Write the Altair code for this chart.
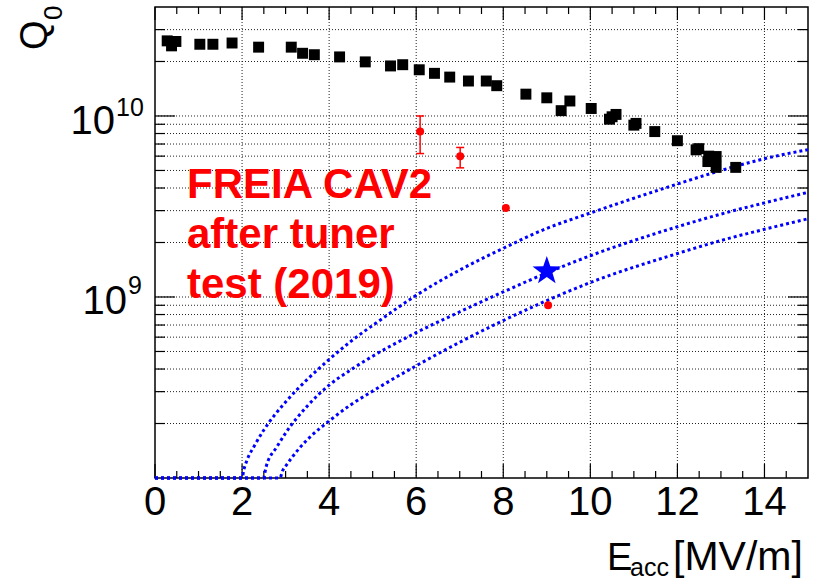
import altair as alt
import pandas as pd

# ---------------- data ----------------
black_E = [0.28, 0.38, 0.48, 1.03, 1.33, 1.77, 2.38, 3.13, 3.39, 3.66, 4.24, 4.83,
           5.41, 5.69, 6.07, 6.42, 6.77, 7.20, 7.61, 7.85, 8.52, 9.00, 9.33, 9.53,
           10.02, 10.44, 10.50, 10.59, 11.00, 11.05, 11.48, 12.00, 12.43, 12.49,
           12.70, 12.72, 12.89, 12.89, 13.34]
black_Q = [2.60e10, 2.44e10, 2.58e10, 2.49e10, 2.49e10, 2.53e10, 2.40e10, 2.40e10,
           2.22e10, 2.18e10, 2.12e10, 1.99e10, 1.89e10, 1.92e10, 1.80e10, 1.72e10,
           1.64e10, 1.56e10, 1.56e10, 1.47e10, 1.32e10, 1.26e10, 1.07e10, 1.21e10,
           1.10e10, 9.6e9, 9.9e9, 1.02e10, 8.9e9, 9.1e9, 8.2e9, 7.3e9, 6.5e9, 6.6e9,
           5.6e9, 6.0e9, 5.97e9, 5.2e9, 5.2e9]

red_E = [6.09, 7.01, 8.06, 9.03]
red_Q = [8.2e9, 6.0e9, 3.1e9, 9.0e8]
err_E = [6.09, 7.01]
err_lo = [6.2e9, 5.17e9]
err_hi = [1.0e10, 6.7e9]

star_E = [9.0]
star_Q = [1.39e9]

curveA_E = [0, 2.0, 2.04, 2.1, 2.3, 2.5, 3.0, 3.5, 4.0, 4.5, 5.17, 6.0, 7.0, 8.0,
            9.0, 10.0, 12.0, 13.0, 14.0, 15.0]
curveA_Q = [1e8, 1e8, 1.109e8, 1.230e8, 1.531e8, 1.841e8, 2.630e8, 3.508e8, 4.519e8,
            5.689e8, 7.447e8, 1.021e9, 1.409e9, 1.858e9, 2.393e9, 2.911e9, 4.207e9,
            5.000e9, 5.808e9, 6.516e9]
curveB_E = [0, 2.49, 2.55, 2.8, 3.0, 3.5, 4.0, 4.5, 5.0, 6.0, 7.0, 8.0, 9.0, 10.0,
            12.0, 13.0, 14.0, 15.0]
curveB_Q = [1e8, 1e8, 1.148e8, 1.486e8, 1.770e8, 2.500e8, 3.258e8, 3.963e8, 4.710e8,
            6.353e8, 8.279e8, 1.067e9, 1.358e9, 1.690e9, 2.443e9, 2.871e9, 3.311e9,
            3.784e9]
curveC_E = [0, 2.87, 2.93, 3.0, 3.3, 3.6, 4.0, 4.5, 5.0, 6.0, 7.0, 8.0, 9.0, 10.0,
            12.0, 13.0, 14.0, 15.0]
curveC_Q = [1e8, 1e8, 1.096e8, 1.161e8, 1.445e8, 1.718e8, 2.065e8, 2.541e8, 3.020e8,
            4.169e8, 5.623e8, 7.413e8, 9.550e8, 1.202e9, 1.738e9, 2.051e9, 2.366e9,
            2.704e9]

x_major = [0, 2, 4, 6, 8, 10, 12, 14]
x_minor = [0.5, 1, 1.5, 2.5, 3, 3.5, 4.5, 5, 5.5, 6.5, 7, 7.5, 8.5, 9, 9.5,
           10.5, 11, 11.5, 12.5, 13, 13.5, 14.5]
y_major = [1e9, 1e10]
y_minor = [2e8, 3e8, 4e8, 5e8, 6e8, 7e8, 8e8, 9e8,
           2e9, 3e9, 4e9, 5e9, 6e9, 7e9, 8e9, 9e9, 2e10, 3e10]
y_label_vals = [1e10, 1e9]
y_label_exps = ["10", "9"]
note_lines = ["FREIA CAV2", "after tuner", "test (2019)"]

# ---------------- chart ----------------
W, H = 653, 471
FONT = "Liberation Sans"
xs = alt.Scale(domain=[0, 15], nice=False, zero=False)
ys = alt.Scale(type="log", domain=[1e8, 4e10], nice=False)
one = pd.DataFrame({"d": [0]})
NOX = dict(scale=xs, axis=None)
NOY = dict(scale=ys, axis=None)

layers = []

# vertical grid
layers.append(alt.Chart(pd.DataFrame({"E": x_major[1:]})).mark_rule(
    color="#222", strokeWidth=1, strokeDash=[1, 2]
).encode(x=alt.X("E:Q", **NOX), y=alt.value(0), y2=alt.value(H)))

# horizontal grid
layers.append(alt.Chart(pd.DataFrame({"Q": y_major + y_minor})).mark_rule(
    color="#222", strokeWidth=1, strokeDash=[1, 2]
).encode(y=alt.Y("Q:Q", **NOY), x=alt.value(0), x2=alt.value(W)))


def xticks(vals, y0, y1):
    return alt.Chart(pd.DataFrame({"E": vals})).mark_rule(color="black", strokeWidth=1.2).encode(
        x=alt.X("E:Q", **NOX), y=alt.value(y0), y2=alt.value(y1))


def yticks(vals, x0, x1):
    return alt.Chart(pd.DataFrame({"Q": vals})).mark_rule(color="black", strokeWidth=1.2).encode(
        y=alt.Y("Q:Q", **NOY), x=alt.value(x0), x2=alt.value(x1))


layers += [
    xticks(x_major, H, H - 14), xticks(x_minor, H, H - 7),
    xticks(x_major, 0, 13), xticks(x_minor, 0, 7),
    yticks(y_major, 0, 20), yticks(y_minor, 0, 10),
    yticks(y_major, W, W - 20), yticks(y_minor, W, W - 10),
]

# x tick labels
layers.append(alt.Chart(pd.DataFrame({"E": x_major, "lab": [str(v) for v in x_major]})).mark_text(
    font=FONT, fontSize=40, color="black", align="center", baseline="alphabetic"
).encode(x=alt.X("E:Q", **NOX), y=alt.value(H + 37), text="lab:N"))

# blue dotted curves
curves = pd.concat([
    pd.DataFrame({"E": curveA_E, "Q": curveA_Q, "c": "A"}),
    pd.DataFrame({"E": curveB_E, "Q": curveB_Q, "c": "B"}),
    pd.DataFrame({"E": curveC_E, "Q": curveC_Q, "c": "C"}),
])
layers.append(alt.Chart(curves).mark_line(
    color="#0000ff", strokeWidth=3, strokeDash=[3, 3], interpolate="monotone"
).encode(x=alt.X("E:Q", **NOX), y=alt.Y("Q:Q", **NOY), detail="c:N", order="E:Q"))

# black squares
layers.append(alt.Chart(pd.DataFrame({"E": black_E, "Q": black_Q})).mark_square(
    size=120, color="black", opacity=1
).encode(x=alt.X("E:Q", **NOX), y=alt.Y("Q:Q", **NOY)))

# red error bars and points
err = pd.DataFrame({"E": err_E, "lo": err_lo, "hi": err_hi})
layers.append(alt.Chart(err).mark_rule(color="red", strokeWidth=1.5).encode(
    x=alt.X("E:Q", **NOX), y=alt.Y("lo:Q", **NOY), y2="hi:Q"))
for col in ["lo", "hi"]:
    layers.append(alt.Chart(err).mark_tick(
        color="red", orient="horizontal", size=8, thickness=1.5, opacity=1
    ).encode(x=alt.X("E:Q", **NOX), y=alt.Y(f"{col}:Q", **NOY)))
layers.append(alt.Chart(pd.DataFrame({"E": red_E, "Q": red_Q})).mark_circle(
    size=64, color="red", opacity=1
).encode(x=alt.X("E:Q", **NOX), y=alt.Y("Q:Q", **NOY)))

# blue star
STAR = ("M0,-1 L0.235,-0.324 L0.951,-0.309 L0.380,0.124 L0.588,0.809 L0,0.4 "
        "L-0.588,0.809 L-0.380,0.124 L-0.951,-0.309 L-0.235,-0.324 Z")
layers.append(alt.Chart(pd.DataFrame({"E": star_E, "Q": star_Q})).mark_point(
    shape=STAR, size=900, filled=True, color="#0000ff", opacity=1
).encode(x=alt.X("E:Q", **NOX), y=alt.Y("Q:Q", **NOY)))

# red annotation
layers.append(alt.Chart(one).mark_text(
    text=note_lines, font=FONT, fontSize=42, fontWeight="bold", color="red",
    align="left", baseline="alphabetic", lineHeight=50
).encode(x=alt.value(32), y=alt.value(191)))

# y-axis labels 10^10 and 10^9
base_x = [-40, -28]
base_dy = [18, 17]
sup_dy = [0, -3]
for v, e, bx, bdy, sdy in zip(y_label_vals, y_label_exps, base_x, base_dy, sup_dy):
    d = pd.DataFrame({"Q": [v]})
    layers.append(alt.Chart(d).mark_text(
        text="10", font=FONT, fontSize=40, color="black", align="right",
        baseline="alphabetic", dy=bdy
    ).encode(y=alt.Y("Q:Q", **NOY), x=alt.value(bx)))
    layers.append(alt.Chart(d).mark_text(
        text=e, font=FONT, fontSize=25, color="black", align="left",
        baseline="alphabetic", dy=sdy
    ).encode(y=alt.Y("Q:Q", **NOY), x=alt.value(bx + 1)))

# y title Q_0 (rotated)
layers.append(alt.Chart(one).mark_text(
    text="Q", font=FONT, fontSize=38, color="black", align="left",
    baseline="alphabetic", angle=270
).encode(x=alt.value(-108), y=alt.value(43)))
layers.append(alt.Chart(one).mark_text(
    text="0", font=FONT, fontSize=26, color="black", align="left",
    baseline="alphabetic", angle=270
).encode(x=alt.value(-93), y=alt.value(13)))

# x title E_acc [MV/m]
layers.append(alt.Chart(one).mark_text(
    text="E", font=FONT, fontSize=38, color="black", align="left", baseline="alphabetic"
).encode(x=alt.value(452), y=alt.value(563)))
layers.append(alt.Chart(one).mark_text(
    text="acc", font=FONT, fontSize=25, color="black", align="left", baseline="alphabetic"
).encode(x=alt.value(475), y=alt.value(569)))
layers.append(alt.Chart(one).mark_text(
    text="[MV/m]", font=FONT, fontSize=41, color="black", align="left", baseline="alphabetic"
).encode(x=alt.value(518), y=alt.value(563)))

chart = alt.layer(*layers).properties(
    width=W, height=H,
    padding={"left": 155, "top": 7, "right": 9, "bottom": 104},
    autosize=alt.AutoSizeParams(type="none"),
    background="white",
).configure_view(stroke="black", strokeWidth=1.5)

chart.save("out.html", embed_options={"renderer": "svg", "actions": False})
